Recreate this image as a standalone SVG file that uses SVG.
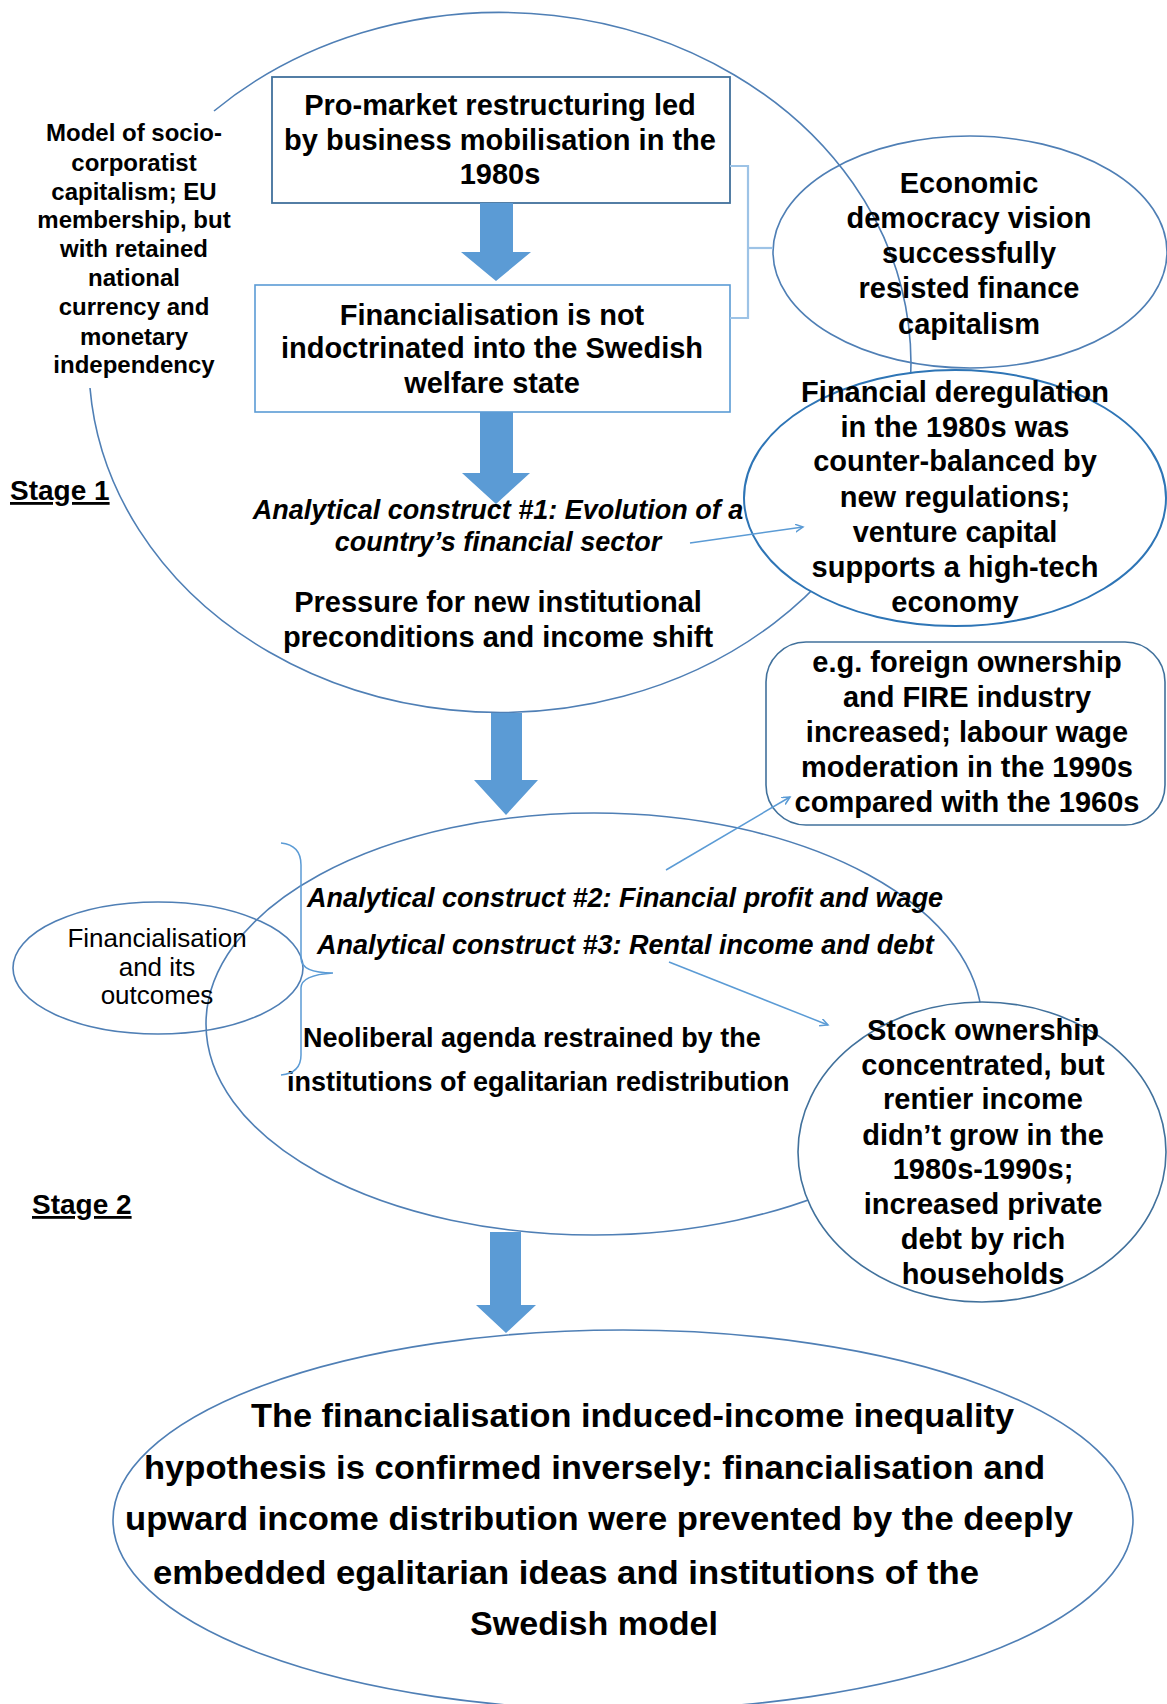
<svg xmlns="http://www.w3.org/2000/svg" width="1167" height="1704" viewBox="0 0 1167 1704">
<defs>
<style>
.t{font-family:"Liberation Sans",Arial,sans-serif;font-weight:bold;fill:#000;text-anchor:middle}
.m{font-size:29px}
.l{font-size:24px}
.c{font-size:27px;font-style:italic}
.f{font-size:34px}
.n{font-size:27px}
.st{font-size:28px;text-anchor:start;text-decoration:underline}
.el{fill:none;stroke:#4F7FB5;stroke-width:1.6}
.wf{fill:#fff}
.big{fill:#5B9BD5}
.con{fill:none;stroke:#5B9BD5;stroke-width:1.5}
</style>
<marker id="ah" markerWidth="10" markerHeight="10" refX="8" refY="4" orient="auto" markerUnits="userSpaceOnUse">
<path d="M0,0 L8,4 L0,8" fill="none" stroke="#5B9BD5" stroke-width="1.5"/>
</marker>
</defs>
<rect width="1167" height="1704" fill="#fff"/>

<g id="stage1-ellipse">
<path class="el" d="M214,111 A411,350 0 1 1 90,388"/>
</g>

<g id="label-left">
<text class="t l" x="134" y="141">Model of socio-</text>
<text class="t l" x="134" y="171">corporatist</text>
<text class="t l" x="134" y="200">capitalism; EU</text>
<text class="t l" x="134" y="228">membership, but</text>
<text class="t l" x="134" y="257">with retained</text>
<text class="t l" x="134" y="286">national</text>
<text class="t l" x="134" y="315">currency and</text>
<text class="t l" x="134" y="345">monetary</text>
<text class="t l" x="134" y="373">independency</text>
</g>

<g id="stage1-label"><text class="t st" x="10" y="500">Stage 1</text></g>

<g id="box1">
<rect x="272" y="77" width="458" height="126" fill="#fff" stroke="#41719C" stroke-width="1.8"/>
<text class="t m" x="500" y="115">Pro-market restructuring led</text>
<text class="t m" x="500" y="150">by business mobilisation in the</text>
<text class="t m" x="500" y="184">1980s</text>
</g>

<g id="box2">
<rect x="255" y="285" width="475" height="127" fill="#fff" stroke="#5B9BD5" stroke-width="1.6"/>
<text class="t m" x="492" y="325">Financialisation is not</text>
<text class="t m" x="492" y="358">indoctrinated into the Swedish</text>
<text class="t m" x="492" y="393">welfare state</text>
</g>

<g id="econ-democracy">
<ellipse class="el" cx="970" cy="252" rx="197" ry="116" stroke="#41719C"/>
<text class="t m" x="969" y="193">Economic</text>
<text class="t m" x="969" y="228">democracy vision</text>
<text class="t m" x="969" y="263">successfully</text>
<text class="t m" x="969" y="298">resisted finance</text>
<text class="t m" x="969" y="334">capitalism</text>
</g>

<g id="fin-dereg">
<ellipse class="wf" cx="955" cy="498" rx="211" ry="128" stroke="#2E75B6" stroke-width="2"/>
<text class="t m" x="955" y="402">Financial deregulation</text>
<text class="t m" x="955" y="437">in the 1980s was</text>
<text class="t m" x="955" y="471">counter-balanced by</text>
<text class="t m" x="955" y="507">new regulations;</text>
<text class="t m" x="955" y="542">venture capital</text>
<text class="t m" x="955" y="577">supports a high-tech</text>
<text class="t m" x="955" y="612">economy</text>
</g>

<g id="stage1-texts">
<text class="t c" x="498" y="519">Analytical construct #1: Evolution of a</text>
<text class="t c" x="498" y="551">country’s financial sector</text>
<text class="t m" x="498" y="612">Pressure for new institutional</text>
<text class="t m" x="498" y="647">preconditions and income shift</text>
</g>

<g id="eg-box">
<rect x="766" y="642" width="399" height="183" rx="40" ry="40" fill="#fff" stroke="#41719C" stroke-width="1.6"/>
<text class="t m" x="967" y="672">e.g. foreign ownership</text>
<text class="t m" x="967" y="707">and FIRE industry</text>
<text class="t m" x="967" y="742">increased; labour wage</text>
<text class="t m" x="967" y="777">moderation in the 1990s</text>
<text class="t m" x="967" y="812">compared with the 1960s</text>
</g>

<g id="stage2-ellipse">
<ellipse class="el" cx="594" cy="1024" rx="388" ry="211"/>
</g>

<g id="fin-outcomes">
<ellipse class="el" cx="158" cy="968" rx="145" ry="66" stroke="#41719C"/>
<text class="t" style="font-weight:normal;font-size:26px" x="157" y="947">Financialisation</text>
<text class="t" style="font-weight:normal;font-size:26px" x="157" y="976">and its</text>
<text class="t" style="font-weight:normal;font-size:26px" x="157" y="1004">outcomes</text>
</g>

<g id="stage2-texts">
<text class="t c" style="text-anchor:start" x="307" y="907">Analytical construct #2: Financial profit and wage</text>
<text class="t c" style="text-anchor:start" x="317" y="954">Analytical construct #3: Rental income and debt</text>
<text class="t n" style="text-anchor:start" x="303" y="1047">Neoliberal agenda restrained by the</text>
<text class="t n" style="text-anchor:start" x="287" y="1091">institutions of egalitarian redistribution</text>
</g>

<g id="stock">
<ellipse class="wf" cx="982" cy="1152" rx="184" ry="150" stroke="#41719C" stroke-width="1.6"/>
<text class="t m" x="983" y="1040">Stock ownership</text>
<text class="t m" x="983" y="1075">concentrated, but</text>
<text class="t m" x="983" y="1109">rentier income</text>
<text class="t m" x="983" y="1145">didn’t grow in the</text>
<text class="t m" x="983" y="1179">1980s-1990s;</text>
<text class="t m" x="983" y="1214">increased private</text>
<text class="t m" x="983" y="1249">debt by rich</text>
<text class="t m" x="983" y="1284">households</text>
</g>

<g id="stage2-label"><text class="t st" x="32" y="1214">Stage 2</text></g>

<g id="conclusion">
<ellipse class="el" cx="623" cy="1520" rx="510" ry="190" stroke="#6A8FBF"/>
<text class="t f" style="text-anchor:start" x="251" y="1427" textLength="763" lengthAdjust="spacingAndGlyphs">The financialisation induced-income inequality</text>
<text class="t f" style="text-anchor:start" x="144" y="1479" textLength="901" lengthAdjust="spacingAndGlyphs">hypothesis is confirmed inversely: financialisation and</text>
<text class="t f" style="text-anchor:start" x="125" y="1530" textLength="948" lengthAdjust="spacingAndGlyphs">upward income distribution were prevented by the deeply</text>
<text class="t f" style="text-anchor:start" x="153" y="1584" textLength="826" lengthAdjust="spacingAndGlyphs">embedded egalitarian ideas and institutions of the</text>
<text class="t f" style="text-anchor:start" x="470" y="1635" textLength="248" lengthAdjust="spacingAndGlyphs">Swedish model</text>
</g>

<g id="connectors">
<polygon class="big" points="480,203 513,203 513,252 531,252 496,281 461,252 480,252"/>
<polygon class="big" points="480,412 513,412 513,473 530,473 496,504 462,473 480,473"/>
<polygon class="big" points="491,713 522,713 522,780 538,780 506,815 474,780 491,780"/>
<polygon class="big" points="490,1232 521,1232 521,1305 536,1305 506,1333 476,1305 490,1305"/>
<polyline points="730,166 748,166 748,318 730,318" fill="none" stroke="#9DC3E6" stroke-width="2.2"/>
<line x1="748" y1="248" x2="773" y2="248" stroke="#9DC3E6" stroke-width="2.2"/>
<line class="con" x1="690" y1="543" x2="803" y2="527" marker-end="url(#ah)"/>
<line class="con" x1="666" y1="870" x2="790" y2="797" marker-end="url(#ah)"/>
<line class="con" x1="669" y1="962" x2="828" y2="1025" marker-end="url(#ah)"/>
<path class="con" d="M281,843 Q301,845 301,865 L301,958 Q301,973 333,973 Q301,975 301,988 L301,1055 Q301,1073 281,1075"/>
</g>
</svg>
